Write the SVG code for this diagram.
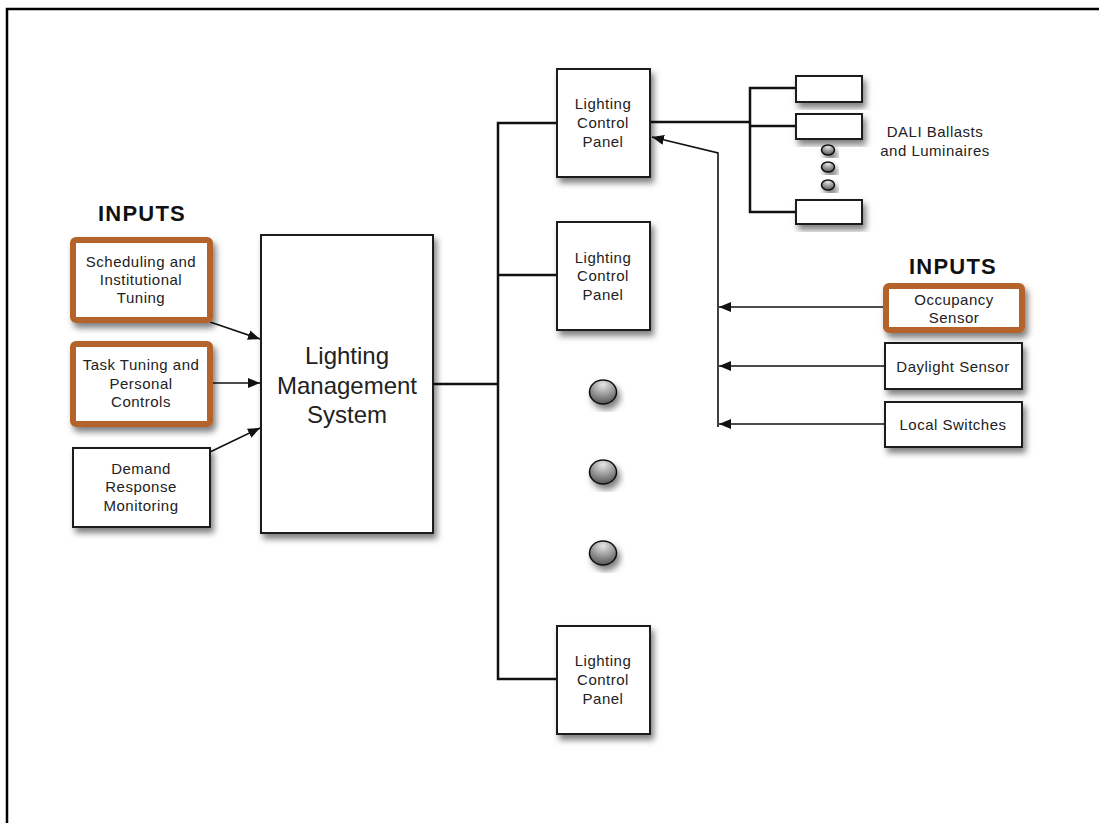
<svg xmlns="http://www.w3.org/2000/svg" width="1099" height="823" viewBox="0 0 1099 823">
<style>
.box{fill:#fff;stroke:#1a1a1a;stroke-width:2}
.obox{fill:#fff;stroke:#b4632a;stroke-width:6}
.t{font-family:"Liberation Sans",Arial,sans-serif;fill:#222;text-anchor:middle;font-size:15px;letter-spacing:0.5px}
.big{font-size:24px;letter-spacing:0}
.hd{font-family:"Liberation Sans",Arial,sans-serif;font-weight:bold;fill:#111;text-anchor:middle;font-size:22px;letter-spacing:1.2px}
.bus{fill:none;stroke:#111;stroke-width:2.5}
.arr{fill:none;stroke:#111;stroke-width:1.6;marker-end:url(#ah)}
.dot{fill:url(#dg);stroke:#111;stroke-width:1.5}
</style>
<defs>
<filter id="sh" x="-20%" y="-20%" width="150%" height="150%">
<feDropShadow dx="3" dy="5" stdDeviation="3" flood-color="#000" flood-opacity="0.5"/>
</filter>
<radialGradient id="dg" cx="50%" cy="20%" r="80%">
<stop offset="0" stop-color="#e6e6e6"/>
<stop offset="1" stop-color="#555"/>
</radialGradient>
<marker id="ah" viewBox="0 0 12 10" refX="12" refY="5" markerWidth="12" markerHeight="10" markerUnits="userSpaceOnUse" orient="auto">
<path d="M0,0 L12,5 L0,10 Z" fill="#111"/>
</marker>
</defs>
<rect width="1099" height="823" fill="#fff"/>
<path d="M7,823 V9 H1099" fill="none" stroke="#000" stroke-width="2.5"/>

<g id="connectors">
<line class="arr" x1="210" y1="322" x2="260" y2="339"/>
<line class="arr" x1="213" y1="383" x2="260" y2="383"/>
<line class="arr" x1="210" y1="452" x2="260" y2="428"/>
<path class="bus" d="M433,384 H498"/>
<path class="bus" d="M557,123 H498 V679 H557 M498,275 H557"/>
<path class="bus" d="M650,122 H750 M796,88 H750 V212 H796 M750,126 H796"/>
<path class="arr" d="M718,427 V153 L652,137"/>
<line class="arr" x1="883" y1="307" x2="719" y2="307"/>
<line class="arr" x1="885" y1="366" x2="719" y2="366"/>
<line class="arr" x1="885" y1="424" x2="719" y2="424"/>
</g>

<text class="hd" x="142" y="221">INPUTS</text>
<text class="hd" x="953" y="274">INPUTS</text>

<g id="sched">
<rect class="obox" x="73" y="240" width="137" height="80" rx="3" filter="url(#sh)"/>
<text class="t" x="141" y="267">Scheduling and</text>
<text class="t" x="141" y="285">Institutional</text>
<text class="t" x="141" y="303">Tuning</text>
</g>
<g id="task">
<rect class="obox" x="73" y="344" width="137" height="80" rx="3" filter="url(#sh)"/>
<text class="t" x="141" y="370">Task Tuning and</text>
<text class="t" x="141" y="389">Personal</text>
<text class="t" x="141" y="407">Controls</text>
</g>
<g id="demand">
<rect class="box" x="73" y="448" width="137" height="79" filter="url(#sh)"/>
<text class="t" x="141" y="474">Demand</text>
<text class="t" x="141" y="492">Response</text>
<text class="t" x="141" y="511">Monitoring</text>
</g>
<g id="lms">
<rect class="box" x="261" y="235" width="172" height="298" filter="url(#sh)"/>
<text class="t big" x="347" y="364">Lighting</text>
<text class="t big" x="347" y="394">Management</text>
<text class="t big" x="347" y="423">System</text>
</g>
<g id="panel1">
<rect class="box" x="557" y="69" width="93" height="108" filter="url(#sh)"/>
<text class="t" x="603" y="109">Lighting</text>
<text class="t" x="603" y="128">Control</text>
<text class="t" x="603" y="147">Panel</text>
</g>
<g id="panel2">
<rect class="box" x="557" y="222" width="93" height="108" filter="url(#sh)"/>
<text class="t" x="603" y="263">Lighting</text>
<text class="t" x="603" y="281">Control</text>
<text class="t" x="603" y="300">Panel</text>
</g>
<g id="panel3">
<rect class="box" x="557" y="626" width="93" height="108" filter="url(#sh)"/>
<text class="t" x="603" y="666">Lighting</text>
<text class="t" x="603" y="685">Control</text>
<text class="t" x="603" y="704">Panel</text>
</g>
<g id="dots">
<ellipse class="dot" cx="603" cy="392" rx="13.5" ry="12" filter="url(#sh)"/>
<ellipse class="dot" cx="603" cy="472" rx="13.5" ry="12" filter="url(#sh)"/>
<ellipse class="dot" cx="603" cy="553" rx="13.5" ry="12" filter="url(#sh)"/>
</g>
<g id="dali">
<rect class="box" x="796" y="76" width="66" height="26" filter="url(#sh)"/>
<rect class="box" x="796" y="114" width="66" height="25" filter="url(#sh)"/>
<rect class="box" x="796" y="200" width="66" height="24" filter="url(#sh)"/>
<ellipse class="dot" cx="828" cy="150" rx="6.5" ry="5" stroke-width="1.2" filter="url(#sh)"/>
<ellipse class="dot" cx="828" cy="167" rx="6.5" ry="5" stroke-width="1.2" filter="url(#sh)"/>
<ellipse class="dot" cx="828" cy="185" rx="6.5" ry="5" stroke-width="1.2" filter="url(#sh)"/>
<text class="t" x="935" y="137">DALI Ballasts</text>
<text class="t" x="935" y="156">and Luminaires</text>
</g>
<g id="occupancy">
<rect class="obox" x="886" y="286" width="136" height="44" rx="3" filter="url(#sh)"/>
<text class="t" x="954" y="305">Occupancy</text>
<text class="t" x="954" y="323">Sensor</text>
</g>
<g id="daylight">
<rect class="box" x="885" y="343" width="137" height="46" filter="url(#sh)"/>
<text class="t" x="953" y="372">Daylight Sensor</text>
</g>
<g id="switches">
<rect class="box" x="885" y="402" width="137" height="45" filter="url(#sh)"/>
<text class="t" x="953" y="430">Local Switches</text>
</g>
</svg>
